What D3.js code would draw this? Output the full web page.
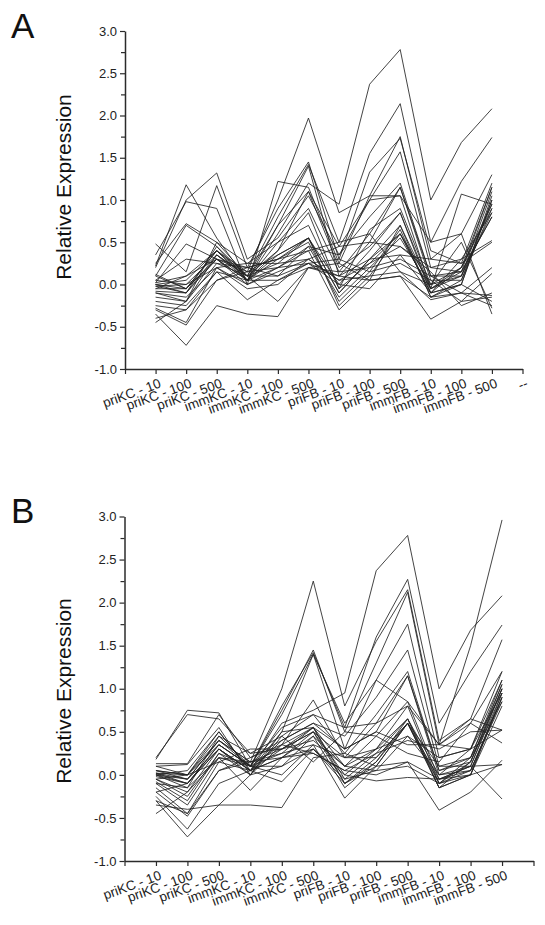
<!DOCTYPE html>
<html><head><meta charset="utf-8">
<script src="https://cdn.jsdelivr.net/npm/d3@7"></script>
<style>body{margin:0;background:#fff}svg{display:block}</style>
</head><body>
<svg id="chart" width="545" height="925"></svg>
<script>
const categories = ["priKC - 10","priKC - 100","priKC - 500","immKC - 10","immKC - 100","immKC - 500","priFB - 10","priFB - 100","priFB - 500","immFB - 10","immFB - 100","immFB - 500"];
const extraLabelA = "--";
const yTicks = [-1.0,-0.5,0.0,0.5,1.0,1.5,2.0,2.5,3.0];
const yMinorTicks = [-0.75,-0.25,0.25,0.75,1.25,1.75,2.25,2.75];
const yTitle = "Relative Expression";

const linesA = [
 [0.10,-0.05,0.30,0.05,0.60,1.20,0.95,2.37,2.78,1.00,1.68,2.08],
 [0.00,-0.10,0.35,0.10,0.80,1.42,0.50,1.55,2.14,0.50,1.22,1.74],
 [-0.05,0.10,0.40,0.15,1.00,1.97,0.85,1.05,1.75,0.30,0.60,1.30],
 [0.48,0.15,1.17,0.20,0.90,1.45,0.30,1.33,1.73,0.40,0.25,1.20],
 [0.22,1.18,0.55,0.05,0.70,1.10,0.45,1.00,1.57,0.20,0.15,1.15],
 [0.35,0.98,0.90,0.00,1.22,1.15,0.25,1.05,1.05,-0.05,1.07,0.95],
 [0.20,1.00,1.32,0.30,0.55,1.05,0.35,0.80,1.20,0.10,0.10,1.10],
 [0.25,0.72,0.50,0.25,0.50,0.90,0.15,0.60,1.15,0.05,0.05,1.00],
 [0.10,0.70,0.45,0.10,0.40,0.85,-0.05,0.65,0.90,0.00,0.20,0.90],
 [0.02,0.48,0.30,0.15,0.35,0.55,0.00,0.40,0.85,-0.10,0.30,0.85],
 [0.05,0.30,0.25,0.20,0.30,0.55,-0.10,0.30,0.70,-0.05,0.15,0.80],
 [0.00,0.05,0.40,0.05,0.30,0.50,-0.20,0.15,0.65,-0.15,0.00,1.00],
 [-0.02,0.00,0.35,0.10,0.25,0.55,-0.25,0.10,0.60,-0.10,0.20,0.95],
 [-0.05,-0.05,0.30,0.00,0.20,0.45,-0.15,0.20,0.55,-0.05,0.10,0.85],
 [-0.08,-0.10,0.45,0.05,0.20,0.40,-0.30,0.05,0.70,-0.15,0.05,0.90],
 [-0.10,-0.15,0.20,0.00,0.15,0.30,0.05,0.25,0.45,0.20,0.30,0.52],
 [-0.15,-0.20,0.25,0.10,0.10,0.25,0.10,0.30,0.35,0.30,0.25,0.50],
 [-0.20,-0.25,0.15,0.05,0.05,0.20,0.15,0.20,0.30,0.10,-0.10,0.20],
 [-0.25,-0.30,0.05,0.15,0.20,0.25,0.30,0.15,0.25,0.05,-0.20,0.13],
 [-0.28,-0.45,0.20,-0.05,0.00,0.30,0.45,0.50,0.45,0.15,-0.25,-0.10],
 [-0.30,-0.48,0.05,0.20,0.30,0.40,0.50,0.60,0.15,-0.18,-0.10,-0.13],
 [-0.35,-0.72,-0.25,-0.35,-0.38,0.20,0.25,0.05,0.10,-0.41,-0.20,-0.15],
 [-0.40,-0.30,0.15,-0.18,0.05,0.25,0.00,-0.05,0.35,-0.10,0.00,-0.20],
 [-0.45,-0.20,0.50,0.10,-0.20,0.20,0.10,0.05,0.10,-0.15,-0.10,-0.25],
 [0.12,-0.05,0.40,0.05,0.50,0.70,-0.05,0.25,0.60,0.00,0.50,-0.28],
 [0.02,0.10,0.30,0.20,0.10,0.45,0.35,1.00,1.05,0.50,0.60,-0.35],
 [-0.02,-0.10,0.30,0.05,0.40,1.10,0.20,0.45,0.85,-0.05,0.20,1.15],
 [0.00,-0.05,0.40,0.10,0.70,1.40,0.10,0.50,1.15,0.10,0.15,0.80],
 [-0.10,-0.20,0.35,0.05,0.35,0.55,-0.10,0.30,0.60,-0.10,0.00,1.05],
 [0.05,0.00,0.20,0.25,0.25,0.30,0.05,0.10,0.15,0.00,0.10,0.95]
];

const linesB = [
 [0.05,-0.05,0.30,0.05,0.60,0.75,0.95,2.37,2.78,1.00,1.68,2.08],
 [0.02,-0.10,0.35,0.10,0.80,1.42,0.55,1.60,2.27,0.60,1.20,1.74],
 [-0.05,0.00,0.40,0.15,1.00,2.25,0.80,1.55,2.15,0.40,0.65,1.57],
 [0.00,-0.15,0.45,0.10,0.75,1.45,0.50,1.30,2.12,0.35,0.60,1.20],
 [0.18,0.75,0.72,0.10,0.70,1.40,0.30,1.10,1.75,0.20,0.30,1.10],
 [0.13,0.13,0.70,0.20,0.40,0.60,0.45,0.90,1.45,0.10,0.20,1.05],
 [0.20,0.70,0.65,0.25,0.45,0.70,0.25,0.70,1.20,0.05,0.15,1.00],
 [0.10,0.12,0.55,0.00,0.35,0.87,0.20,0.60,1.15,0.00,0.10,0.95],
 [0.05,0.00,0.50,0.05,0.50,0.55,0.10,0.45,0.85,-0.05,0.05,0.90],
 [0.02,-0.05,0.40,0.15,0.30,0.50,0.00,0.30,0.80,-0.10,0.20,0.85],
 [0.00,-0.10,0.35,0.10,0.25,0.55,-0.05,0.25,0.65,-0.15,0.00,0.80],
 [-0.05,-0.20,0.30,0.05,0.20,0.50,-0.10,0.20,0.60,-0.05,0.10,1.00],
 [-0.08,-0.30,0.25,0.00,0.10,0.45,-0.15,0.15,0.65,-0.10,0.05,0.90],
 [-0.10,-0.35,0.20,0.10,0.00,0.35,-0.27,0.10,0.60,-0.15,0.15,1.05],
 [-0.15,-0.45,0.15,0.05,-0.08,0.30,-0.05,0.05,0.45,0.00,0.30,0.95],
 [-0.20,-0.48,0.05,0.20,0.35,0.25,0.05,0.25,0.40,0.30,0.50,0.52],
 [-0.25,-0.63,-0.10,0.05,0.40,0.60,0.30,0.50,0.35,0.35,0.65,0.52],
 [-0.30,-0.72,-0.35,0.00,0.45,0.15,0.50,0.45,0.25,0.15,0.60,0.37],
 [-0.35,-0.40,-0.35,-0.35,-0.38,0.20,0.25,0.10,0.15,-0.41,-0.20,0.17],
 [-0.45,-0.20,0.20,-0.18,0.20,0.30,0.00,-0.07,-0.03,-0.05,0.00,0.12],
 [0.05,0.00,0.45,0.25,0.30,0.50,0.20,0.20,0.60,0.10,0.10,-0.28],
 [0.00,-0.05,0.40,0.10,0.55,0.70,0.55,0.60,0.80,0.35,0.30,1.20],
 [-0.02,-0.10,0.30,0.05,0.20,0.45,0.10,0.30,0.65,0.00,0.05,0.85],
 [0.02,0.00,0.35,0.10,0.35,0.55,-0.10,0.15,0.60,-0.10,0.00,0.90],
 [-0.10,-0.15,0.20,0.15,0.25,0.35,0.20,0.30,0.45,0.20,0.30,0.52],
 [0.10,0.00,0.15,0.30,0.30,0.40,0.10,0.05,0.10,-0.10,0.15,1.00],
 [-0.05,-0.25,0.25,0.10,0.10,0.30,-0.10,0.10,0.60,-0.15,0.00,0.95],
 [0.00,0.05,0.50,0.05,0.30,0.55,0.30,0.50,1.15,0.05,0.20,1.10],
 [-0.20,-0.10,0.30,0.00,0.50,1.40,0.60,1.10,0.85,0.35,1.50,2.96],
 [-0.30,-0.45,0.05,0.15,0.20,0.25,0.05,0.00,0.15,-0.05,0.10,0.12]
];

const svg = d3.select("#chart");
const font = "Liberation Sans, Arial, Helvetica, sans-serif";
const ink = "#2b2b2b";

function panel(cfg) {
  const x = d3.scaleLinear().domain([0, 13]).range([cfg.x0, cfg.x1]);
  const y = d3.scaleLinear().domain([-1, 3]).range([cfg.yb, cfg.yt]);
  const g = svg.append("g");

  g.append("text").attr("x", 11).attr("y", cfg.letterY)
    .attr("font-family", font).attr("font-size", 35).attr("fill", "#111")
    .text(cfg.letter);

  g.append("text")
    .attr("transform", `translate(${cfg.titleX},${cfg.titleY}) rotate(-90)`)
    .attr("text-anchor", "middle").attr("font-family", font)
    .attr("font-size", 21).attr("fill", "#111").text(yTitle);

  const line = d3.line().x((d, i) => x(i + 1)).y(d => y(d));
  g.append("g").selectAll("path").data(cfg.lines).join("path")
    .attr("d", line).attr("fill", "none").attr("stroke", "#222")
    .attr("stroke-width", 0.85).attr("stroke-linejoin", "miter");

  const ya = g.append("g").attr("transform", `translate(${cfg.x0},0)`)
    .call(d3.axisLeft(y).tickValues(yTicks).tickFormat(d => d.toFixed(1)).tickSize(5).tickSizeOuter(0).tickPadding(3));
  g.append("g").attr("transform", `translate(${cfg.x0},0)`)
    .call(d3.axisLeft(y).tickValues(yMinorTicks).tickFormat("").tickSize(4).tickSizeOuter(0))
    .call(s => s.select(".domain").remove());

  g.append("g").attr("transform", `translate(0,${cfg.yb})`)
    .call(d3.axisBottom(x).tickValues(d3.range(0, 14)).tickFormat("").tickSize(5).tickSizeOuter(0));

  g.selectAll(".domain").attr("stroke", ink).attr("stroke-width", 1.5);
  g.selectAll(".tick line").attr("stroke", ink).attr("stroke-width", 1.2);
  ya.selectAll("text").attr("font-family", font).attr("font-size", 13).attr("fill", "#222");

  const labels = categories.map((c, i) => ({ t: c, v: i + 1 }));
  if (cfg.extra) labels.push({ t: cfg.extra, v: 13 });
  g.append("g").selectAll("text").data(labels).join("text")
    .attr("transform", d => `translate(${x(d.v) + 3},${cfg.yb + 9}) rotate(-20)`)
    .attr("text-anchor", "end").attr("dy", "0.71em")
    .attr("font-family", font).attr("font-size", 13.5).attr("fill", "#222")
    .text(d => d.t);
}

panel({ letter: "A", letterY: 38, x0: 125, x1: 522.5, yb: 369, yt: 31,
        titleX: 71, titleY: 187, lines: linesA, extra: extraLabelA });
panel({ letter: "B", letterY: 523, x0: 124.5, x1: 533.5, yb: 861, yt: 516.5,
        titleX: 71, titleY: 691, lines: linesB, extra: null });
</script>
</body></html>
